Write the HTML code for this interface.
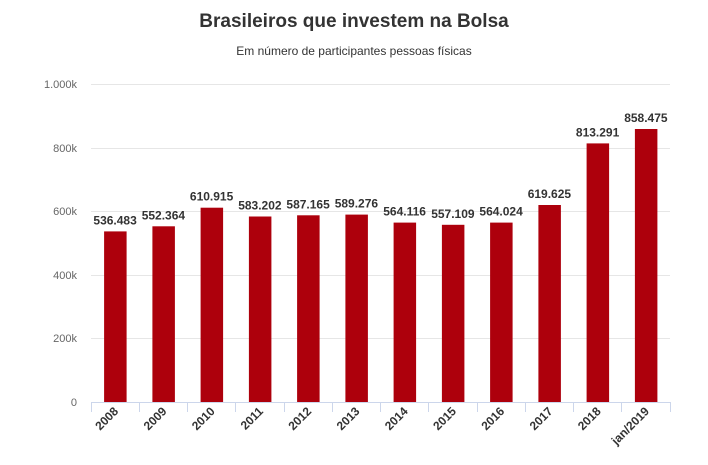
<!DOCTYPE html>
<html><head><meta charset="utf-8"><style>
body{margin:0;background:#fff}
</style></head><body>
<svg width="708" height="460" xmlns="http://www.w3.org/2000/svg" font-family="Liberation Sans, DejaVu Sans, sans-serif">
<text x="354" y="27" text-anchor="middle" font-size="19" font-weight="bold" fill="#333">Brasileiros que investem na Bolsa</text>
<text x="354" y="55" text-anchor="middle" font-size="12" fill="#333">Em número de participantes pessoas físicas</text>
<g stroke="#e6e6e6" stroke-width="1">
<line x1="91" x2="670" y1="84.5" y2="84.5"/><line x1="91" x2="670" y1="148.5" y2="148.5"/>
<line x1="91" x2="670" y1="211.5" y2="211.5"/><line x1="91" x2="670" y1="275.5" y2="275.5"/>
<line x1="91" x2="670" y1="338.5" y2="338.5"/>
</g>
<g font-size="11" fill="#666" text-anchor="end">
<text x="77" y="88">1.000k</text><text x="77" y="152">800k</text><text x="77" y="215">600k</text>
<text x="77" y="279">400k</text><text x="77" y="342">200k</text><text x="77" y="406">0</text>
</g>
<g fill="#ad000c">
<rect x="104.1" y="231.4" width="22.5" height="170.6"/>
<rect x="152.4" y="226.3" width="22.5" height="175.7"/>
<rect x="200.6" y="207.7" width="22.5" height="194.3"/>
<rect x="248.9" y="216.5" width="22.5" height="185.5"/>
<rect x="297.1" y="215.3" width="22.5" height="186.7"/>
<rect x="345.4" y="214.6" width="22.5" height="187.4"/>
<rect x="393.6" y="222.6" width="22.5" height="179.4"/>
<rect x="441.9" y="224.8" width="22.5" height="177.2"/>
<rect x="490.1" y="222.6" width="22.5" height="179.4"/>
<rect x="538.4" y="205.0" width="22.5" height="197.0"/>
<rect x="586.6" y="143.4" width="22.5" height="258.6"/>
<rect x="634.9" y="129.0" width="22.5" height="273.0"/>
</g>
<g font-size="12" font-weight="bold" fill="#333" text-anchor="middle">
<text x="115.1" y="224.4">536.483</text>
<text x="163.4" y="219.3">552.364</text>
<text x="211.6" y="200.7">610.915</text>
<text x="259.9" y="209.5">583.202</text>
<text x="308.1" y="208.3">587.165</text>
<text x="356.4" y="207.6">589.276</text>
<text x="404.6" y="215.6">564.116</text>
<text x="452.9" y="217.8">557.109</text>
<text x="501.1" y="215.6">564.024</text>
<text x="549.4" y="198.0">619.625</text>
<text x="597.6" y="136.4">813.291</text>
<text x="645.9" y="122.0">858.475</text>
</g>
<line x1="91" x2="670" y1="402.5" y2="402.5" stroke="#ccd6eb"/>
<g stroke="#ccd6eb">
<line x1="91.5" x2="91.5" y1="402" y2="412"/><line x1="139.5" x2="139.5" y1="402" y2="412"/>
<line x1="187.5" x2="187.5" y1="402" y2="412"/><line x1="235.5" x2="235.5" y1="402" y2="412"/>
<line x1="284.5" x2="284.5" y1="402" y2="412"/><line x1="332.5" x2="332.5" y1="402" y2="412"/>
<line x1="380.5" x2="380.5" y1="402" y2="412"/><line x1="428.5" x2="428.5" y1="402" y2="412"/>
<line x1="477.5" x2="477.5" y1="402" y2="412"/><line x1="525.5" x2="525.5" y1="402" y2="412"/>
<line x1="573.5" x2="573.5" y1="402" y2="412"/><line x1="621.5" x2="621.5" y1="402" y2="412"/>
<line x1="670.5" x2="670.5" y1="402" y2="412"/>
</g>
<g font-size="12" font-weight="bold" fill="#333" text-anchor="end">
<text transform="translate(119,412) rotate(-45)">2008</text>
<text transform="translate(167.4,412) rotate(-45)">2009</text>
<text transform="translate(215.6,412) rotate(-45)">2010</text>
<text transform="translate(263.9,412) rotate(-45)">2011</text>
<text transform="translate(312.1,412) rotate(-45)">2012</text>
<text transform="translate(360.4,412) rotate(-45)">2013</text>
<text transform="translate(408.6,412) rotate(-45)">2014</text>
<text transform="translate(456.9,412) rotate(-45)">2015</text>
<text transform="translate(505.1,412) rotate(-45)">2016</text>
<text transform="translate(553.4,412) rotate(-45)">2017</text>
<text transform="translate(601.6,412) rotate(-45)">2018</text>
<text transform="translate(649.9,412) rotate(-45)">jan/2019</text>
</g>
</svg>
</body></html>
